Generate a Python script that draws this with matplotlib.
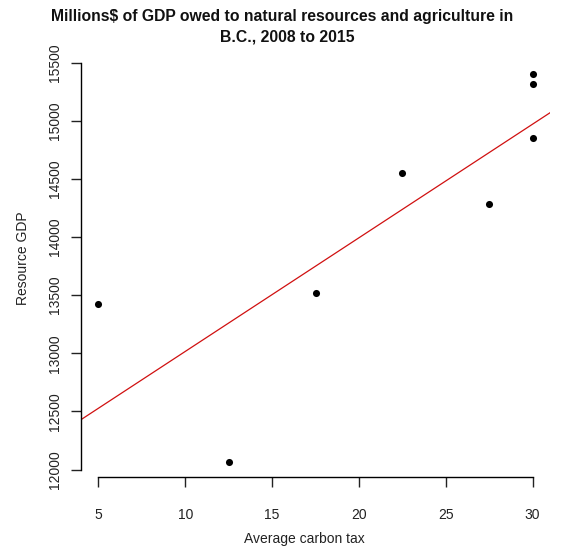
import numpy as np
import matplotlib
matplotlib.use("Agg")
from matplotlib import pyplot as plt

plt.rcParams['font.family'] = ['Liberation Sans', 'DejaVu Sans']

# Donnees
carbon_tax = [5, 12.5, 17.5, 22.5, 27.5, 30, 30, 30]
resource_gdp = [13424, 12069, 13521, 14550, 14286, 15397, 15314, 14847]
xticks = [5, 10, 15, 20, 25, 30]
yticks = [12000, 12500, 13000, 13500, 14000, 14500, 15000, 15500]

fig = plt.figure(figsize=(5.83, 5.48), dpi=100)
ax = fig.add_axes([81/583, 1-477/548, (550-81)/583, (477-59)/548])

# marges a la R (4%)
xr = max(carbon_tax) - min(carbon_tax)
yr = max(resource_gdp) - min(resource_gdp)
ax.set_xlim(min(carbon_tax) - 0.04*xr, max(carbon_tax) + 0.04*xr)
ax.set_ylim(min(resource_gdp) - 0.04*yr, max(resource_gdp) + 0.04*yr)

ax.scatter(carbon_tax, resource_gdp, s=26, color="black", zorder=3, linewidths=0)

# droite de regression
pente, ordonnee = np.polyfit(carbon_tax, resource_gdp, 1)
xl = np.array(ax.get_xlim())
ax.plot(xl, ordonnee + pente*xl, color="#d01010", lw=0.9)
ax.set_xlim(xl)

for s in ["top", "right"]:
  ax.spines[s].set_visible(False)
ax.spines["left"].set_bounds(yticks[0], yticks[-1])
ax.spines["bottom"].set_bounds(xticks[0], xticks[-1])
ax.spines["left"].set_linewidth(1.0)
ax.spines["bottom"].set_linewidth(1.0)

ax.set_xticks(xticks)
ax.set_yticks(yticks)
ax.tick_params(axis="both", direction="out", length=7, width=1.0, labelsize=10, colors="#222222")
ax.tick_params(axis="x", pad=15)
ax.tick_params(axis="y", pad=6.5)
for lab in ax.get_yticklabels():
  lab.set_rotation(90)
  lab.set_va("center")

fig.text(304/583, 1-539/548, "Average carbon tax", ha="center", va="center", fontsize=10, color="#222222")
fig.text(23/583, 1-258/548, "Resource GDP", ha="center", va="center", rotation=90, fontsize=10, color="#222222")
fig.text(282/583, 1-17/548, "Millions$ of GDP owed to natural resources and agriculture in",
         ha="center", va="center", fontsize=11.3, fontweight="bold", color="#111111")
fig.text(287/583, 1-37/548, "B.C., 2008 to 2015",
         ha="center", va="center", fontsize=11.3, fontweight="bold", color="#111111")

fig.savefig("out.png", dpi=100)
